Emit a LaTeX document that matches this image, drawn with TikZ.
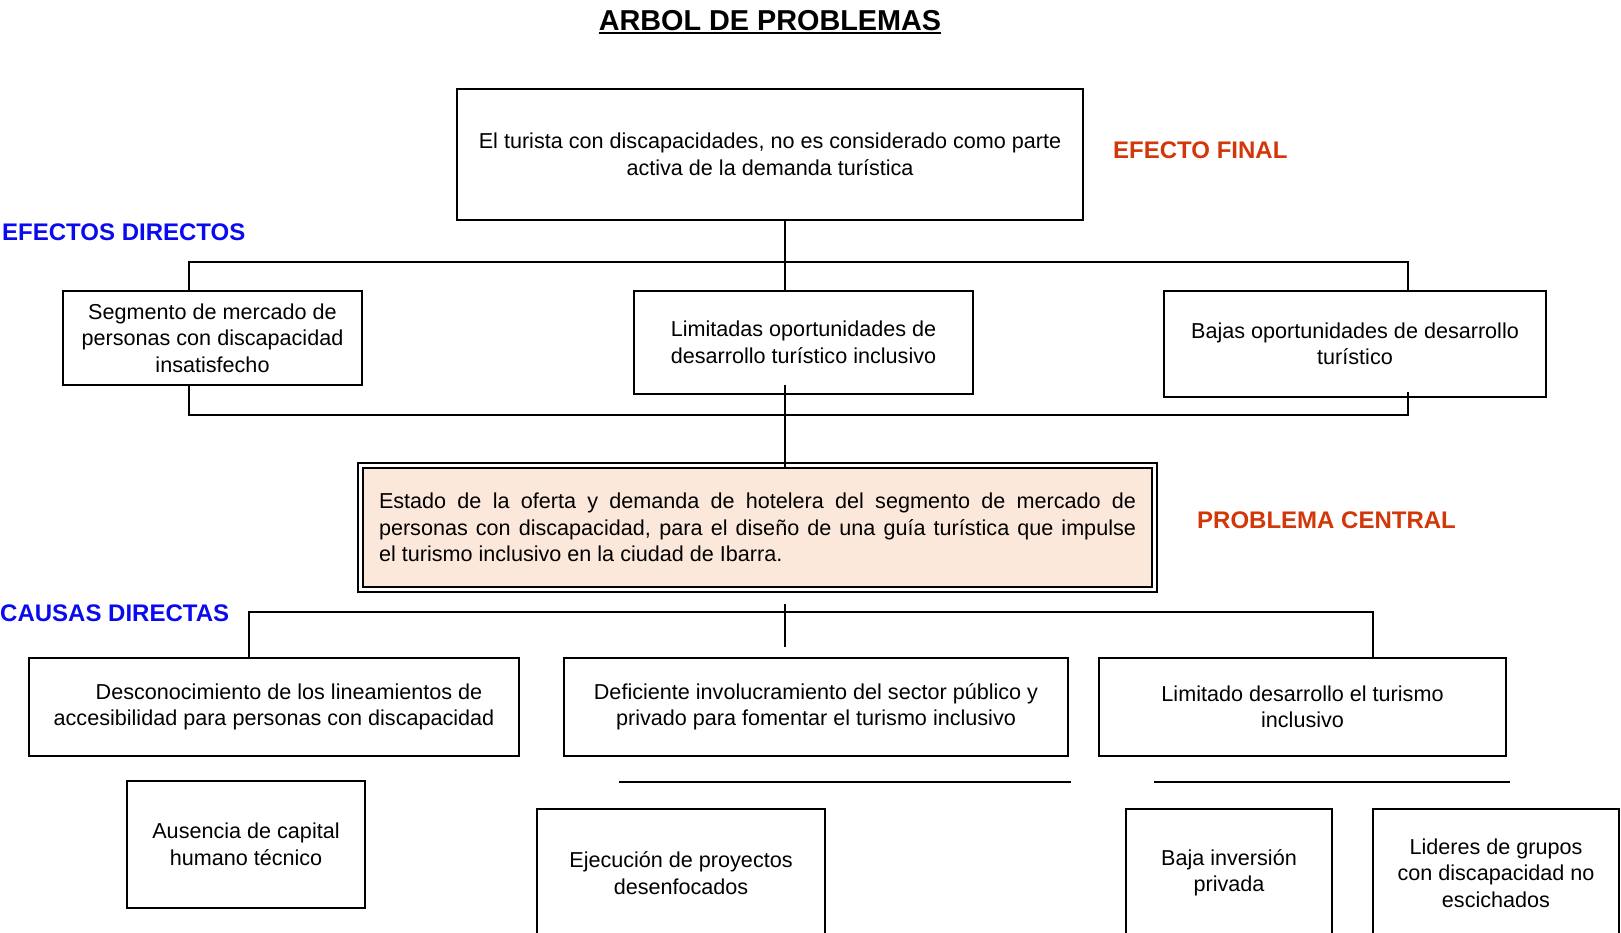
\documentclass[tikz,border=0pt]{standalone}
\usepackage{fontspec}
\setmainfont{Liberation Sans}
\newcommand\txtfnt{\fontsize{21.6}{26.5}\selectfont}
\newcommand\lblfnt{\fontsize{24}{28}\selectfont\bfseries}
\newcommand\ttlfnt{\fontsize{28.8}{32}\selectfont\bfseries}
\definecolor{lblblue}{RGB}{10,10,240}
\definecolor{lblred}{RGB}{210,55,10}
\definecolor{peach}{RGB}{252,232,218}
\begin{document}
\begin{tikzpicture}[x=1pt,y=-1pt,
  box/.style={draw=black, line width=1.4pt, align=center, inner sep=0pt, font=\txtfnt},
  conn/.style={line width=1.6pt},
  lbl/.style={font=\lblfnt, inner sep=0pt, anchor=west},
]
\useasboundingbox (0,0) rectangle (1621,932);
\clip (0,0) rectangle (1621,932);

% title
\node[font=\ttlfnt, inner sep=0pt, anchor=base] (title) at (770,30) {ARBOL DE PROBLEMAS};
\draw[line width=2pt] ([yshift=-3pt]title.base west) -- ([yshift=-3pt]title.base east);

% labels
\node[lbl, text=lblred] (ef) at (1113,150) {EFECTO FINAL};
\node[lbl, text=lblblue] (ed) at (2,232) {EFECTOS DIRECTOS};
\node[lbl, text=lblred] (pc) at (1197,520) {PROBLEMA CENTRAL};
\node[lbl, text=lblblue] (cd) at (0,613) {CAUSAS DIRECTAS};

% top box
\node[box, minimum width=626, minimum height=131] (top) at (770,154.5)
  {El turista con discapacidades, no es considerado como parte\\activa de la demanda turística};

% effects
\node[box, minimum width=299, minimum height=94] (a1) at (212.5,338)
  {Segmento de mercado de\\personas con discapacidad\\insatisfecho};
\node[box, minimum width=339, minimum height=103] (a2) at (803.5,342.5)
  {Limitadas oportunidades de\\desarrollo turístico inclusivo};
\node[box, minimum width=382, minimum height=106] (a3) at (1355,344)
  {Bajas oportunidades de desarrollo\\turístico};

% central problem
\node[draw=black, line width=1.2pt, minimum width=799, minimum height=129, inner sep=0pt] (probout) at (757.5,527.5) {};
\node[draw=black, fill=peach, line width=2pt, text width=757pt, inner xsep=16pt, inner ysep=0pt,
      minimum height=119, align=justify, font=\txtfnt] (prob) at (757.5,527.5)
  {Estado de la oferta y demanda de hotelera del segmento de mercado de\linebreak
   personas con discapacidad, para el diseño de una guía turística que impulse\linebreak
   el turismo inclusivo en la ciudad de Ibarra.};

% causes
\node[box, minimum width=490, minimum height=98] (c1) at (274,707)
  {\hspace*{30pt}Desconocimiento de los lineamientos de\\accesibilidad para personas con discapacidad};
\node[box, minimum width=504, minimum height=98] (c2) at (816,707)
  {Deficiente involucramiento del sector público y\\privado para fomentar el turismo inclusivo};
\node[box, minimum width=407, minimum height=98] (c3) at (1302.5,707)
  {Limitado desarrollo el turismo\\inclusivo};

% sub causes
\node[box, minimum width=238, minimum height=127] (d1) at (246,844.5)
  {Ausencia de capital\\humano técnico};
\node[box, minimum width=288, minimum height=128] (d2) at (681,873)
  {Ejecución de proyectos\\desenfocados};
\node[box, minimum width=206, minimum height=128] (d3) at (1229,873)
  {Baja inversión\\privada};
\node[box, minimum width=246, minimum height=128] (d4) at (1496,873)
  {Lideres de grupos\\con discapacidad no\\escichados};

% connectors: effects bracket
\coordinate (hl) at (189,262);
\coordinate (hm) at (785,262);
\coordinate (hr) at (1408,262);
\draw[conn] (top.south -| hm) -- (hm);
\draw[conn] (a1.north -| hl) -- (hl) -- (hr) -- (a3.north -| hr);
\draw[conn] (hm) -- (a2.north -| hm);

% lower bracket
\coordinate (ll) at (189,415);
\coordinate (lm) at (785,415);
\coordinate (lr) at (1408,415);
\draw[conn] (a1.south -| ll) -- (ll) -- (lr) -- (lr |- a3.south) -- ++(0,-6);
\draw[conn] ([yshift=10pt]a2.south -| lm) -- (prob.north -| lm);

% causes bracket
\coordinate (cl) at (249,612);
\coordinate (cr) at (1373,612);
\coordinate (ct) at (785,604);
\coordinate (cb) at (785,647);
\draw[conn] (c1.north -| cl) -- (cl) -- (cr) -- (c3.north -| cr);
\draw[conn] (ct) -- (cb);

% lines above sub causes
\coordinate (s1a) at (619,782);
\coordinate (s1b) at (1071,782);
\coordinate (s2a) at (1154,782);
\coordinate (s2b) at (1510,782);
\draw[conn] (s1a) -- (s1b);
\draw[conn] (s2a) -- (s2b);
\end{tikzpicture}
\end{document}
